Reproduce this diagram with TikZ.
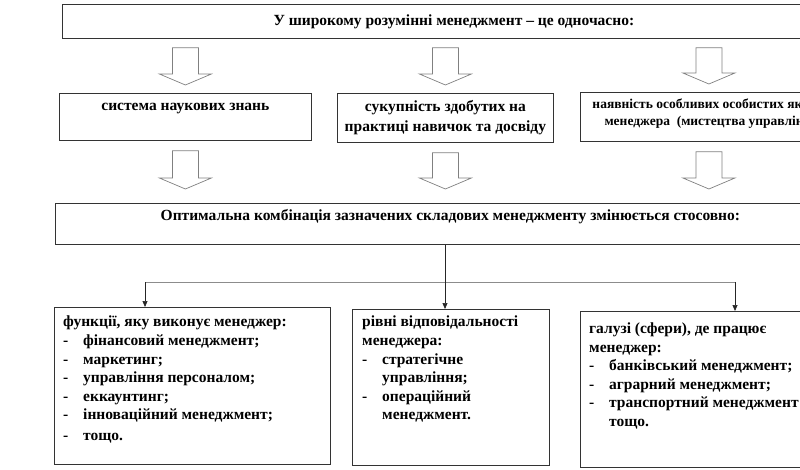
\documentclass[tikz,border=0pt]{standalone}
\usepackage{fontspec}
\setmainfont{Liberation Serif}
\usetikzlibrary{calc,arrows.meta}
\newcommand{\blockarrow}[2]{\draw[hollow] let \p1=#1, \p2=#2 in (\x2-13pt,\y1) -- (\x2+13pt,\y1) -- (\x2+13pt,\y2+11pt) -- (\x2+26pt,\y2+11pt) -- (\x2,\y2) -- (\x2-26pt,\y2+11pt) -- (\x2-13pt,\y2+11pt) -- cycle;}
\newcommand{\itm}{\makebox[20pt][l]{-}}
\newcommand{\itmgap}{\hspace*{20pt}}
\tikzset{
	panel/.style={draw=black!80, line width=0.8pt, anchor=north west, inner sep=0pt},
	headline/.style={inner sep=0pt, align=center, font=\bfseries\fontsize{15.5}{20}\selectfont},
	body/.style={anchor=north west, inner sep=0pt, align=left, font=\bfseries\fontsize{15.5}{18.6}\selectfont},
	hollow/.style={draw=black!50, fill=white, line width=0.7pt},
	bus/.style={draw=black!45, line width=0.9pt},
	link/.style={draw=black!85, line width=0.7pt, -{Triangle[length=6pt,width=5pt]}}
}

\begin{document}
\begin{tikzpicture}[x=1pt, y=-1pt]
			%%%%% START %%%%%
			
			\useasboundingbox (0,0) rectangle (800,469);
			\clip (0,0) rectangle (800,469);
			
			\node[panel, headline, minimum width=783, minimum height=34] (top) at (62,4) {У широкому розумінні менеджмент -- це одночасно:};
			
			\node[panel, minimum width=252, minimum height=47] (sys) at (59,93) {};
			\node[headline] (sys-txt) at ($(sys.north)+(0,16)$) {система наукових знань};
			\node[panel, headline, minimum width=216, minimum height=49] (skill) at (337,93) {сукупність здобутих на\\практиці навичок та досвіду};
			\node[panel, minimum width=257, minimum height=49] (art) at (580,92) {};
			\node[headline, font=\bfseries\fontsize{13.5}{17}\selectfont] (art-txt) at ($(art.north)+(5,21.5)$) {наявність особливих особистих якостей\\менеджера~~(мистецтва управління)};
			
			\blockarrow{($(top.south -| sys.north)+(0,9)$)}{($(sys.north)+(0,-8)$)}
			\blockarrow{($(top.south -| skill.north)+(0,9)$)}{($(skill.north)+(0,-8)$)}
			\blockarrow{($(top.south -| art.north)+(0,9)$)}{($(art.north)+(0,-8)$)}
			
			\node[panel, minimum width=790, minimum height=41] (opt) at (55,203) {};
			\node[headline] (opt-txt) at ($(opt.north)+(0,14)$) {Оптимальна комбінація зазначених складових менеджменту змінюється стосовно:};
			
			\blockarrow{($(sys.south)+(0,10)$)}{($(opt.north -| sys.south)+(0,-14)$)}
			\blockarrow{($(skill.south)+(0,10)$)}{($(opt.north -| skill.south)+(0,-14)$)}
			\blockarrow{($(art.south)+(0,10)$)}{($(opt.north -| art.south)+(0,-14)$)}
			
			\node[panel, minimum width=276, minimum height=157] (funk) at (54,307) {};
			\node[body] (funk-txt) at ($(funk.north west)+(9,9)$) {функції, яку виконує менеджер:\\\itm фінансовий менеджмент;\\\itm маркетинг;\\\itm управління персоналом;\\\itm еккаунтинг;\\\itm інноваційний менеджмент;\\[1.5pt]\itm тощо.};
			
			\node[panel, minimum width=197, minimum height=156] (rivni) at (352,309) {};
			\node[body] (rivni-txt) at ($(rivni.north west)+(10,7)$) {рівні відповідальності\\менеджера:\\\itm стратегічне\\\itmgap управління;\\\itm операційний\\\itmgap менеджмент.};
			
			\node[panel, minimum width=225, minimum height=156] (haluz) at (580,311) {};
			\node[body] (haluz-txt) at ($(haluz.north west)+(9,11.5)$) {галузі (сфери), де працює\\менеджер:\\\itm банківський менеджмент;\\\itm аграрний менеджмент;\\\itm транспортний менеджмент\\\itmgap тощо.};
			
			\coordinate (fork) at (445,282);
			\coordinate (busL) at (145,282);
			\coordinate (busR) at (735,282);
			\draw[bus] (busL) -- (busR);
			\draw[link] (opt.south -| fork) -- (rivni.north -| fork);
			\draw[link] (busL) -- (funk.north -| busL);
			\draw[link] (busR) -- (haluz.north -| busR);
			
			%%%%% END %%%%%
\end{tikzpicture}
\end{document}
